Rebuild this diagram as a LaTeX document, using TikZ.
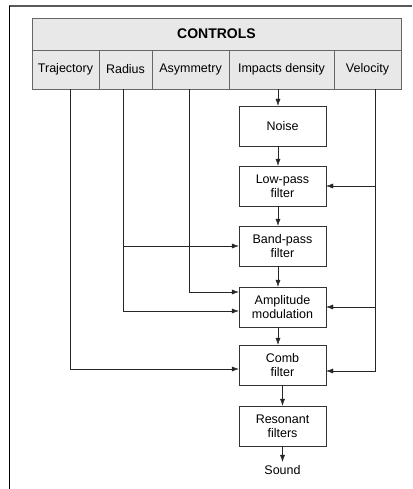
\documentclass[tikz,border=0pt]{standalone}
\usepackage{fontspec}
\setmainfont{Liberation Sans}
\usepackage{tikz}
\usetikzlibrary{positioning, arrows.meta}

\tikzset{
  cell/.style={draw=gray!80!black, fill=gray!18, minimum height=39, inner sep=0pt, font=\fontsize{12.5}{14}\selectfont},
  block/.style={draw=black!80, minimum width=87, minimum height=40, inner sep=0pt, align=center, font=\fontsize{12.5}{14}\selectfont},
  arr/.style={draw=black!85, -{Latex[length=7pt,width=5pt]}},
  wire/.style={draw=black!85}
}

\begin{document}
\begin{tikzpicture}[x=1pt, y=-1pt]
		\useasboundingbox (0,0) rectangle (412,489);
		
		% Page frame
		\draw[gray!70!black, line width=1.5pt] (9,6) -- (412,6);
		\draw[black] (9,6) -- (9,489);
		
		% Controls
		\node[cell, minimum width=369, minimum height=32, font=\fontsize{14}{16}\selectfont\bfseries] (controls) at (216.5,34) {CONTROLS};
		\node[cell, minimum width=67] (trajectory) at (65.5,69.5) {Trajectory};
		\node[cell, minimum width=53] (radius) at (125.5,69.5) {Radius};
		\node[cell, minimum width=77] (asymmetry) at (190.5,69.5) {Asymmetry};
		\node[cell, minimum width=105] (impacts) at (281.5,69.5) {Impacts density};
		\node[cell, minimum width=67] (velocity) at (367.5,69.5) {Velocity};
		
		% Line starts under the controls
		\coordinate (traj) at (70,89);
		\coordinate (rad) at (123,89);
		\coordinate (asym) at (189,89);
		\coordinate (imp) at (278,89);
		\coordinate (velo) at (375,89);
		
		% Synthesis chain
		\node[block] (noise) at (282.5,126) {Noise};
		\node[block] (lowpass) at (282.5,186) {Low-pass\\filter};
		\node[block] (bandpass) at (282.5,246) {Band-pass\\filter};
		\node[block] (amp) at (282.5,307) {Amplitude\\modulation};
		\node[block] (comb) at (282.5,365) {Comb\\filter};
		\node[block] (resonant) at (282.5,426) {Resonant\\filters};
		\node[font=\fontsize{12.5}{14}\selectfont] (sound) at (282.5,470) {Sound};
		
		% Chain arrows
		\draw[arr] (imp) -- (imp |- noise.north);
		\draw[arr] (noise.south -| imp) -- (lowpass.north -| imp);
		\draw[arr] (lowpass.south -| imp) -- (bandpass.north -| imp);
		\draw[arr] (bandpass.south -| imp) -- (amp.north -| imp);
		\draw[arr] (amp.south -| imp) -- (comb.north -| imp);
		\draw[arr] (comb.south) -- (resonant.north);
		\draw[arr] (resonant.south) -- (sound.north);
		
		% Control lines
		\draw[arr] (traj) |- ([yshift=-4]comb.west);
		\draw[arr] (rad) |- ([yshift=-4]amp.west);
		\draw[arr] (rad |- bandpass.west) -- (bandpass.west);
		\draw[arr] (asym) |- ([yshift=15]amp.west);
		\draw[arr] (velo) |- ([yshift=-6]comb.east);
		\draw[arr] (velo |- lowpass.east) -- (lowpass.east);
		\draw[arr] (velo |- amp.east) -- (amp.east);
		
	\end{tikzpicture}
\end{document}
